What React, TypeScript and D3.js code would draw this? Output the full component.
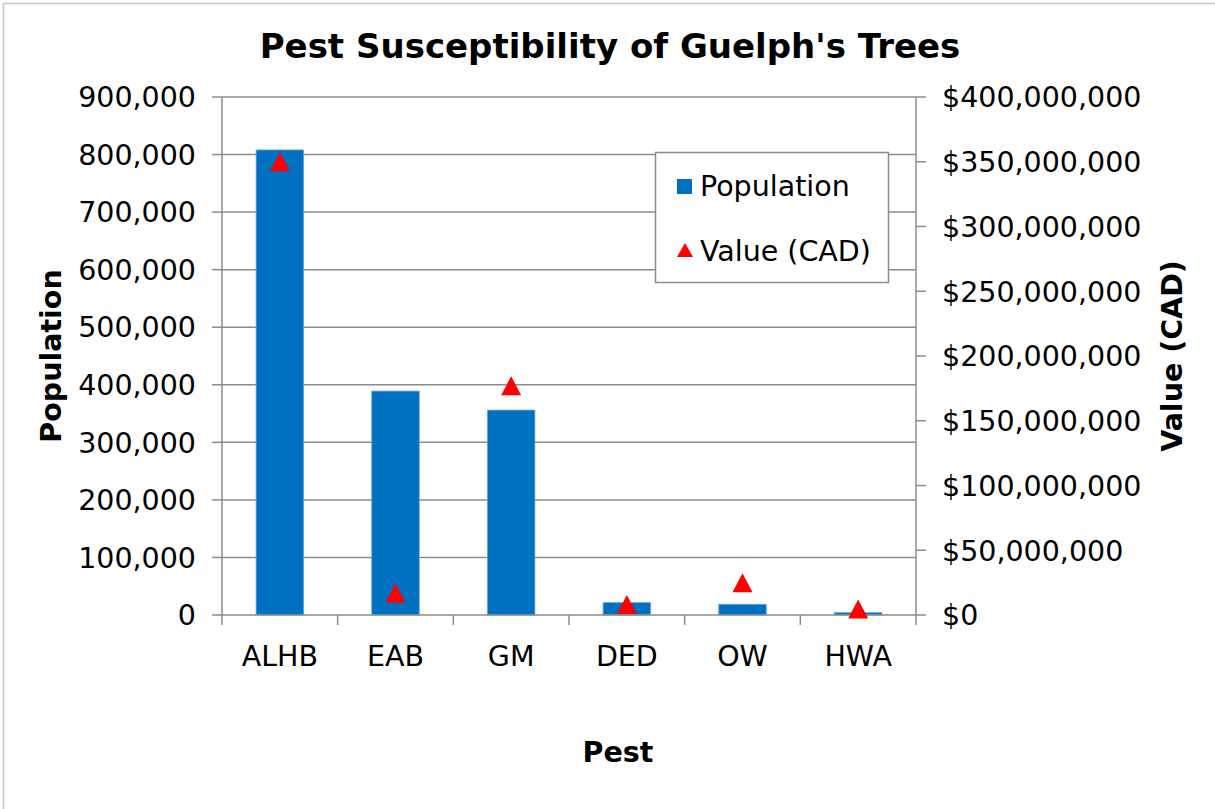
import React from "react";
import * as d3 from "d3";

const pests = ["ALHB", "EAB", "GM", "DED", "OW", "HWA"];
const population = [808000, 389000, 356000, 21400, 18600, 4000];
const valueCad = [350000000, 17000000, 177000000, 8100000, 25000000, 4600000];
const leftTicks = [0, 100000, 200000, 300000, 400000, 500000, 600000, 700000, 800000, 900000];
const rightTicks = [0, 50e6, 100e6, 150e6, 200e6, 250e6, 300e6, 350e6, 400e6];

const W = 1215;
const H = 809;
const plot = { left: 222, right: 916, top: 97, bottom: 615 };
const FONT = "DejaVu Sans, Verdana, sans-serif";
const GRID = "#8c8c8c";
const FS = 28.5;

// triangle marker, centered on its box
const tri = (cx: number, cy: number, w = 20, h = 19) =>
  `M${cx},${cy - h / 2}L${cx + w / 2},${cy + h / 2}L${cx - w / 2},${cy + h / 2}Z`;

export default function App() {
  const x = d3
    .scaleBand<string>()
    .domain(pests)
    .range([plot.left, plot.right])
    .paddingInner(0.59)
    .paddingOuter(0.295);
  const step = (plot.right - plot.left) / pests.length;
  const yL = d3.scaleLinear().domain([0, 900000]).range([plot.bottom, plot.top]);
  const yR = d3.scaleLinear().domain([0, 400e6]).range([plot.bottom, plot.top]);
  const fmt = d3.format(",");
  const fmtR = (v: number) => "$" + d3.format(",")(v);

  return (
    <svg width={W} height={H} style={{ display: "block", position: "absolute", left: 0, top: 0, background: "#fff" }}>
      <rect x={3.5} y={3.5} width={W + 10} height={H + 10} fill="#fff" stroke="#c8c8c8" strokeWidth={1.5} />
      <text x={610} y={58} textAnchor="middle" fontFamily={FONT} fontWeight="bold" fontSize={34} fill="#000">
        Pest Susceptibility of Guelph's Trees
      </text>

      {/* gridlines */}
      {leftTicks.slice(1).map((t) => (
        <line key={"g" + t} x1={plot.left} x2={plot.right} y1={yL(t)} y2={yL(t)} stroke={GRID} strokeWidth={1.5} />
      ))}

      {/* bars */}
      {pests.map((p, i) => (
        <rect
          key={p}
          x={x(p)}
          y={yL(population[i])}
          width={x.bandwidth()}
          height={plot.bottom - yL(population[i])}
          fill="#0070c0"
          stroke="#5fa0dc"
          strokeWidth={0.8}
        />
      ))}

      {/* axes */}
      <line x1={plot.left} x2={plot.left} y1={plot.top} y2={plot.bottom} stroke={GRID} strokeWidth={1.5} />
      <line x1={plot.right} x2={plot.right} y1={plot.top} y2={plot.bottom} stroke={GRID} strokeWidth={1.5} />
      <line x1={plot.left} x2={plot.right} y1={plot.bottom} y2={plot.bottom} stroke={GRID} strokeWidth={1.5} />
      {leftTicks.map((t) => (
        <g key={"l" + t}>
          <line x1={plot.left - 10} x2={plot.left} y1={yL(t)} y2={yL(t)} stroke={GRID} strokeWidth={1.5} />
          <text x={plot.left - 26} y={yL(t)} dy="0.36em" textAnchor="end" fontFamily={FONT} fontSize={FS} fill="#000">
            {fmt(t)}
          </text>
        </g>
      ))}
      {rightTicks.map((t) => (
        <g key={"r" + t}>
          <line x1={plot.right} x2={plot.right + 10} y1={yR(t)} y2={yR(t)} stroke={GRID} strokeWidth={1.5} />
          <text x={plot.right + 26} y={yR(t)} dy="0.36em" textAnchor="start" fontFamily={FONT} fontSize={FS} fill="#000">
            {fmtR(t)}
          </text>
        </g>
      ))}
      {d3.range(pests.length + 1).map((i) => (
        <line
          key={"xt" + i}
          x1={plot.left + i * step}
          x2={plot.left + i * step}
          y1={plot.bottom}
          y2={plot.bottom + 10}
          stroke={GRID}
          strokeWidth={1.5}
        />
      ))}
      {pests.map((p) => (
        <text key={"c" + p} x={x(p)! + x.bandwidth() / 2} y={656} dy="0.36em" textAnchor="middle" fontFamily={FONT} fontSize={FS} fill="#000">
          {p}
        </text>
      ))}

      {/* value markers */}
      {pests.map((p, i) => (
        <path key={"m" + p} d={tri(x(p)! + x.bandwidth() / 2, yR(valueCad[i]))} fill="#ff0000" />
      ))}

      {/* axis titles */}
      <text x={618} y={752} dy="0.36em" textAnchor="middle" fontFamily={FONT} fontWeight="bold" fontSize={FS} fill="#000">
        Pest
      </text>
      <text
        transform={`translate(61,${(plot.top + plot.bottom) / 2}) rotate(-90)`}
        textAnchor="middle"
        fontFamily={FONT}
        fontWeight="bold"
        fontSize={FS}
        fill="#000"
      >
        Population
      </text>
      <text
        transform={`translate(1182,${(plot.top + plot.bottom) / 2}) rotate(-90)`}
        textAnchor="middle"
        fontFamily={FONT}
        fontWeight="bold"
        fontSize={FS}
        fill="#000"
      >
        Value (CAD)
      </text>

      {/* legend */}
      <rect x={655.5} y={152.5} width={233} height={130} fill="#fff" stroke={GRID} strokeWidth={1.5} />
      <rect x={677} y={179} width={15} height={15} fill="#0070c0" />
      <text x={700} y={186} dy="0.36em" fontFamily={FONT} fontSize={FS} fill="#000">
        Population
      </text>
      <path d={tri(685, 250, 16, 14)} fill="#ff0000" />
      <text x={700} y={251} dy="0.36em" fontFamily={FONT} fontSize={FS} fill="#000">
        Value (CAD)
      </text>
    </svg>
  );
}
